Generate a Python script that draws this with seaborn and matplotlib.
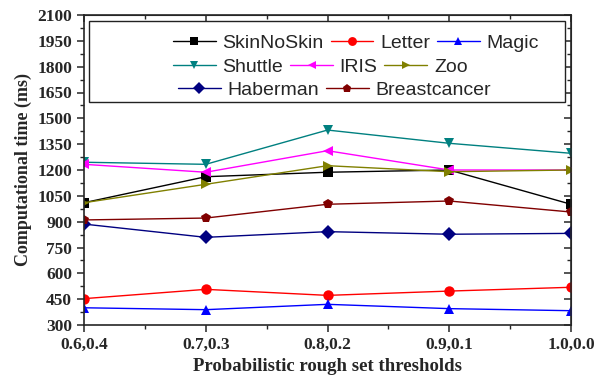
import numpy as np
import pandas as pd
import matplotlib
matplotlib.use("Agg")
import matplotlib.pyplot as plt
from matplotlib.ticker import MultipleLocator, FixedLocator
from matplotlib.patches import Rectangle
from matplotlib.legend import Legend
import seaborn as sns

thresholds = ["0.6,0.4", "0.7,0.3", "0.8,0.2", "0.9,0.1", "1.0,0.0"]
skinnoskin = [1010, 1161, 1187, 1200, 1001]
letter = [453, 507, 472, 497, 519]
magic = [400, 389, 420, 395, 383]
shuttle = [1245, 1233, 1432, 1355, 1297]
iris = [1233, 1187, 1312, 1200, 1200]
zoo = [1010, 1117, 1225, 1190, 1200]
haberman = [886, 809, 842, 827, 832]
breastcancer = [910, 921, 1001, 1020, 956]

series = {
    "SkinNoSkin": skinnoskin, "Letter": letter, "Magic": magic,
    "Shuttle": shuttle, "IRIS": iris, "Zoo": zoo,
    "Haberman": haberman, "Breastcancer": breastcancer,
}
colors = {"SkinNoSkin": "#000000", "Letter": "#ff0000", "Magic": "#0000ff",
          "Shuttle": "#008080", "IRIS": "#ff00ff", "Zoo": "#808000",
          "Haberman": "#000080", "Breastcancer": "#800000"}
markers = {"SkinNoSkin": "s", "Letter": "o", "Magic": "^", "Shuttle": "v",
           "IRIS": "<", "Zoo": ">", "Haberman": "D", "Breastcancer": "p"}

rows = []
for name, vals in series.items():
    for t, v in zip(thresholds, vals):
        rows.append({"threshold": t, "time": v, "dataset": name})
df = pd.DataFrame(rows)

sns.set_style("ticks")
plt.rcParams["font.family"] = ["Liberation Serif", "DejaVu Serif"]

fig = plt.figure(figsize=(5.97, 3.8), dpi=100)
ax = fig.add_axes([84/597, 1-325/380, 487/597, 310/380])

sns.lineplot(data=df, x="threshold", y="time", hue="dataset", style="dataset",
             palette=colors, markers=markers, dashes=False, ax=ax,
             linewidth=1.0, markersize=7.5, markeredgewidth=0, sort=False)

ax.set_xlim(0, len(thresholds) - 1)
ax.set_ylim(300, 2100)
ax.yaxis.set_major_locator(MultipleLocator(150))
ax.yaxis.set_minor_locator(MultipleLocator(75))
ax.xaxis.set_minor_locator(FixedLocator([0.5, 1.5, 2.5, 3.5]))
ax.tick_params(which="major", direction="out", length=5, width=1.1, labelsize=12.5)
ax.tick_params(which="minor", direction="out", length=3, width=1.0)
for lab in ax.get_xticklabels() + ax.get_yticklabels():
    lab.set_fontweight("bold")
for s in ax.spines.values():
    s.set_linewidth(1.2)
    s.set_visible(True)

secy = ax.secondary_yaxis("right")
secy.yaxis.set_major_locator(MultipleLocator(150))
secy.yaxis.set_minor_locator(MultipleLocator(75))
secy.tick_params(which="major", direction="in", length=5, width=1.1, labelright=False)
secy.tick_params(which="minor", direction="in", length=3, width=1.0)
secx = ax.secondary_xaxis("top")
secx.xaxis.set_major_locator(FixedLocator([0, 1, 2, 3, 4]))
secx.xaxis.set_minor_locator(FixedLocator([0.5, 1.5, 2.5, 3.5]))
secx.tick_params(which="major", direction="in", length=5, width=1.1, labeltop=False)
secx.tick_params(which="minor", direction="in", length=3, width=1.0)

ax.set_xlabel("Probabilistic rough set thresholds", fontsize=13.5, fontweight="bold")
ax.set_ylabel("Computational time (ms)", fontsize=13, fontweight="bold")

handles, labels = ax.get_legend_handles_labels()
hmap = dict(zip(labels, handles))
if ax.get_legend() is not None:
    ax.get_legend().remove()
legend_rows = [["SkinNoSkin", "Letter", "Magic"],
               ["Shuttle", "IRIS", "Zoo"],
               ["Haberman", "Breastcancer"]]
row_x = [173, 173, 178]
row_y = [43.5, 67, 90.5]
ax.add_patch(Rectangle((5/487, (325-102)/310), 476/487, 81/310, transform=ax.transAxes,
                       facecolor="white", edgecolor="#222222", linewidth=1.0, zorder=5))
for names, px, py in zip(legend_rows, row_x, row_y):
    leg = Legend(ax, [hmap[k] for k in names], names, ncol=len(names), loc="center left",
                 bbox_to_anchor=((px-84)/487, (325-py)/310), frameon=False,
                 borderpad=0, borderaxespad=0, handlelength=2.2, handletextpad=0.35,
                 columnspacing=0.35, markerscale=0.85,
                 prop={"family": "Liberation Sans", "size": 14})
    leg.set_zorder(6)
    ax.add_artist(leg)

fig.savefig("out.png", dpi=100)
